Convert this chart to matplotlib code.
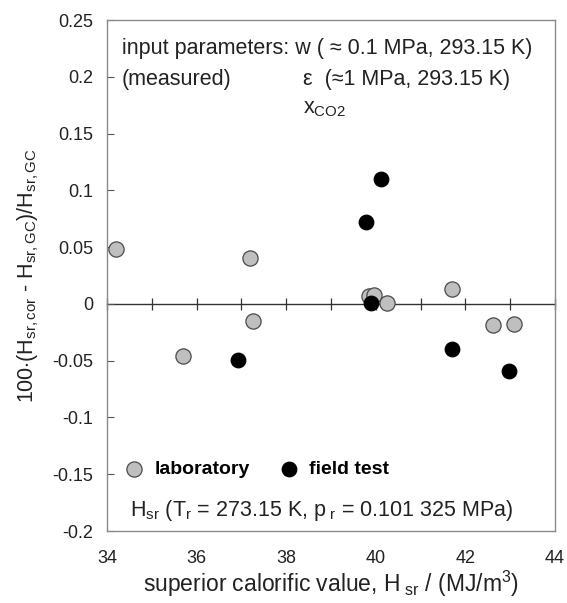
import numpy as np
import matplotlib
matplotlib.use("Agg")
import matplotlib.pyplot as plt
from matplotlib.ticker import FuncFormatter, MultipleLocator

plt.rcParams['font.family'] = ['Liberation Sans', 'DejaVu Sans']
plt.rcParams['mathtext.fontset'] = 'custom'
plt.rcParams['mathtext.rm'] = 'Liberation Sans'
plt.rcParams['mathtext.it'] = 'Liberation Sans:italic'
plt.rcParams['mathtext.bf'] = 'Liberation Sans:bold'

# laboratory
lab_x = [34.2, 35.7, 37.2, 37.25, 39.85, 39.95, 40.25, 41.7, 42.62, 43.08]
lab_y = [0.048, -0.046, 0.040, -0.015, 0.007, 0.008, 0.001, 0.013, -0.019, -0.018]
# field test
field_x = [36.93, 39.78, 39.9, 40.11, 41.7, 42.97]
field_y = [-0.049, 0.072, 0.001, 0.110, -0.040, -0.059]

x_ticks = [34, 36, 38, 40, 42, 44]
y_ticks = [-0.2, -0.15, -0.1, -0.05, 0, 0.05, 0.1, 0.15, 0.2, 0.25]

fig = plt.figure(figsize=(5.67, 6.03), dpi=100)
ax = fig.add_axes([0.1887, 0.1194, 0.7903, 0.8474])

ax.scatter(lab_x, lab_y, s=120, c='#bfbfbf', edgecolors='#4a4a4a', linewidths=0.9,
           zorder=3, label='laboratory')
ax.scatter(field_x, field_y, s=110, c='black', edgecolors='black', linewidths=0.9,
           zorder=4, label='field test')

ax.set_xlim(34, 44)
ax.set_ylim(-0.2, 0.25)
ax.set_xticks(x_ticks)
ax.set_yticks(y_ticks)
ax.yaxis.set_major_formatter(FuncFormatter(lambda v, p: f"{v:g}"))
ax.tick_params(axis='x', length=0, labelsize=13, pad=14, colors='#222222')
ax.tick_params(axis='y', direction='in', length=5, width=0.8, labelsize=13, pad=10,
               color='#555555', labelcolor='#222222')
for s in ax.spines.values():
    s.set_color('#8a8a8a')
    s.set_linewidth(1.0)

# axis line crossing at zero with minor ticks
zero_frac = (0 - (-0.2)) / 0.45
sec = ax.secondary_xaxis(zero_frac)
sec.xaxis.set_major_locator(MultipleLocator(1))
sec.tick_params(axis='x', direction='inout', length=9, width=0.9, color='#333333',
                labelbottom=False, labeltop=False)
sec.spines['bottom'].set_color('#333333')
sec.spines['top'].set_color('#333333')
sec.spines['bottom'].set_linewidth(1.0)

ax.set_xlabel(r'superior calorific value, H$_{\rm \ sr}$ / (MJ/m$^3$)', fontsize=16.5,
              labelpad=1, color='#222222')
ax.set_ylabel(r'100$\cdot$(H$_{\rm sr,cor}$ - H$_{\rm sr,GC}$)/H$_{\rm sr,GC}$',
              fontsize=15.5, labelpad=8, color='#222222')

tc = '#222222'
fs = 15.5
ax.text(0.033, 0.945, 'input parameters: w ( \u2248 0.1 MPa, 293.15 K)', transform=ax.transAxes,
        fontsize=fs, va='center', ha='left', color=tc)
ax.text(0.033, 0.884, '(measured)', transform=ax.transAxes,
        fontsize=fs, va='center', ha='left', color=tc)
ax.text(0.4375, 0.884, '\u03b5  (\u22481 MPa, 293.15 K)', transform=ax.transAxes,
        fontsize=fs, va='center', ha='left', color=tc)
ax.text(0.4375, 0.826, r'x$_{\rm CO2}$', transform=ax.transAxes,
        fontsize=fs, va='center', ha='left', color=tc)
ax.text(0.051, 0.041, r'H$_{\rm sr}$ (T$_{\rm r}$ = 273.15 K, p$_{\rm \ r}$ = 0.101 325 MPa)',
        transform=ax.transAxes, fontsize=fs, va='center', ha='left', color=tc)

leg = ax.legend(loc='center left', bbox_to_anchor=(0.009, 0.121), ncol=2, frameon=False,
                prop={'weight': 'bold', 'size': 14}, handlelength=1.0, handletextpad=0.55,
                columnspacing=1.5, borderaxespad=0.3, scatterpoints=1)

fig.savefig('out.png', dpi=100)
